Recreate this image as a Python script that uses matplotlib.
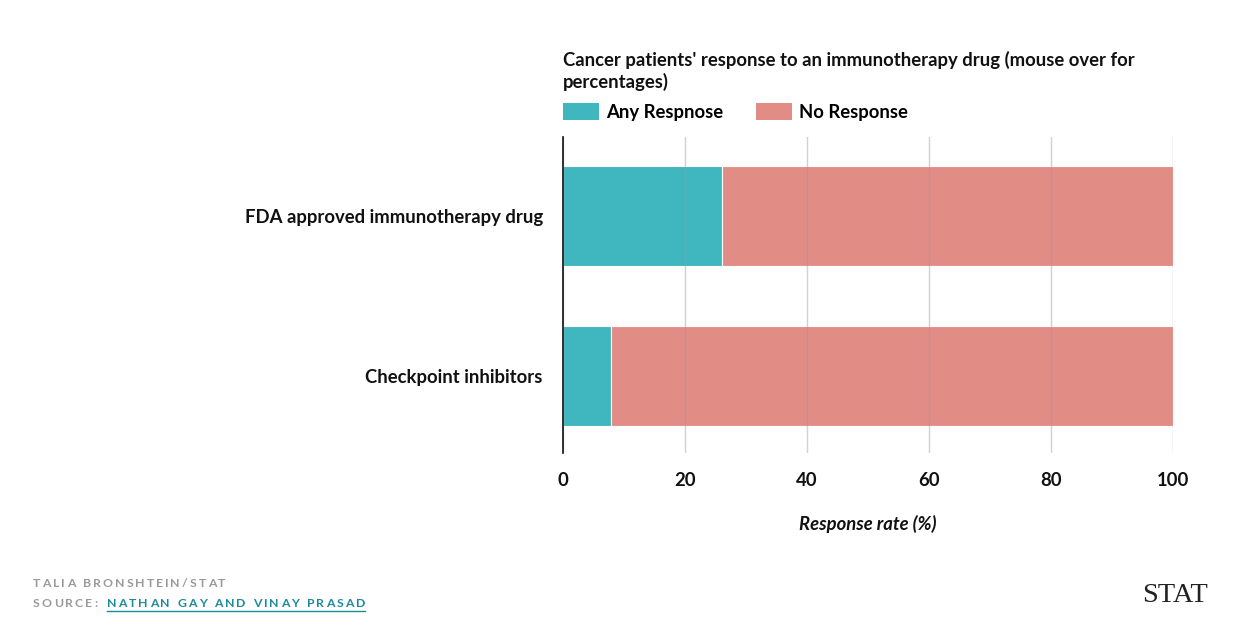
import matplotlib
matplotlib.use("Agg")
import matplotlib.pyplot as plt
from matplotlib.patches import Patch

categories = ["FDA approved immunotherapy drug", "Checkpoint inhibitors"]
series_names = ["Any Respnose", "No Response"]
any_response = [26.0, 7.9]
no_response = [74.0, 92.1]
x_ticks = [0, 20, 40, 60, 80, 100]
title = "Cancer patients' response to an immunotherapy drug (mouse over for\npercentages)"
x_label = "Response rate (%)"
credit = "TALIA BRONSHTEIN/STAT"
source_prefix = "SOURCE: "
source_link = "NATHAN GAY AND VINAY PRASAD"

W, H = 1237, 637
fig = plt.figure(figsize=(W / 100, H / 100), dpi=100)
FONT = "Lato"
TEAL = "#40B7BF"
SALMON = "#E28C86"
FS = 13.3

ax = fig.add_axes([563 / W, 1 - 453 / H, (1173 - 563) / W, (453 - 137) / H])
ypos = list(range(len(categories)))
bh = 0.623
ax.barh(ypos, any_response, height=bh, color=TEAL, edgecolor="white", linewidth=0.8, zorder=2)
ax.barh(ypos, no_response, left=any_response, height=bh, color=SALMON, edgecolor="white",
        linewidth=0.8, zorder=2)
ax.set_xlim(0, 100)
ax.set_ylim(1.48, -0.49)
ax.set_yticks(ypos)
ax.set_yticklabels(categories, fontfamily=FONT, fontweight="bold", fontsize=FS, color="#111111")
ax.set_xticks(x_ticks)
ax.set_xticklabels([str(t) for t in x_ticks], fontfamily=FONT, fontweight="bold", fontsize=FS,
                   color="#111111")
ax.tick_params(axis="both", length=0)
ax.tick_params(axis="y", pad=14.5)
ax.tick_params(axis="x", pad=13.5)
for s in ["top", "right", "bottom"]:
    ax.spines[s].set_visible(False)
ax.spines["left"].set_color("#111111")
ax.spines["left"].set_linewidth(1.2)
ax.spines["left"].set_zorder(4)
ax.grid(axis="x", color="#999999", alpha=0.45, linewidth=1.0, zorder=3)
ax.set_axisbelow(False)
ax.set_xlabel(x_label, fontfamily=FONT, fontweight="bold", fontstyle="italic", fontsize=FS,
              color="#111111", labelpad=19)

fig.text(563 / W, 1 - 51 / H, title, ha="left", va="top", fontfamily=FONT, fontweight="bold",
         fontsize=FS, color="#111111", linespacing=1.25)

handles = [Patch(facecolor=TEAL, label=series_names[0]), Patch(facecolor=SALMON, label=series_names[1])]
leg = fig.legend(handles=handles, loc="center left", bbox_to_anchor=(563 / W, 1 - 112 / H), ncol=2,
                 frameon=False, prop={"family": FONT, "weight": "bold", "size": FS},
                 handlelength=1.95, handleheight=0.98, handletextpad=0.4, columnspacing=1.75,
                 borderpad=0, borderaxespad=0)

# footer with letter spacing
fig.canvas.draw()
renderer = fig.canvas.get_renderer()


def tracked(x_px, y_px, s, color, size=8.8, spacing=2.0, weight="bold", underline=False):
    x = x_px
    start = x
    for ch in s:
        t = fig.text(x / W, 1 - y_px / H, ch, ha="left", va="baseline", fontfamily=FONT,
                     fontweight=weight, fontsize=size, color=color)
        if ch == " ":
            w = size * 0.4
        else:
            bb = t.get_window_extent(renderer)
            w = bb.width
        x += w + spacing
    if underline:
        fig.add_artist(plt.Line2D([start / W, (x - spacing) / W], [1 - (y_px + 4) / H] * 2,
                                  color=color, linewidth=1.0))
    return x


tracked(33, 587, credit, "#999999")
xe = tracked(33, 607, source_prefix, "#999999")
tracked(107, 607, source_link, "#1B8A9A", underline=True)

fig.text(1208 / W, 1 - 602 / H, "STAT", ha="right", va="baseline", fontfamily="Liberation Serif",
         fontsize=20.5, color="#222222")

fig.savefig("out.png", dpi=100)
